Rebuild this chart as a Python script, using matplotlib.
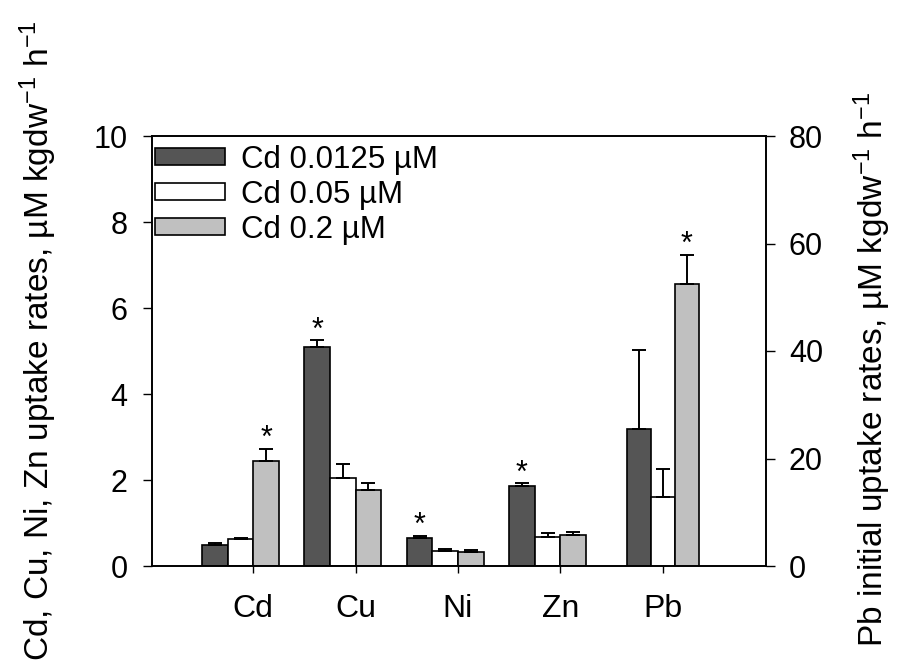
import matplotlib
matplotlib.use("Agg")
import matplotlib.pyplot as plt
import numpy as np
from matplotlib.patches import Patch

plt.rcParams['font.family'] = ['Liberation Sans', 'DejaVu Sans']
plt.rcParams['mathtext.default'] = 'regular'

categories = ['Cd', 'Cu', 'Ni', 'Zn', 'Pb']
series_names = ['Cd 0.0125 µM', 'Cd 0.05 µM', 'Cd 0.2 µM']
# left-axis metals (Cd, Cu, Ni, Zn)
low_vals = [0.50, 5.10, 0.66, 1.87]
low_err = [0.03, 0.15, 0.04, 0.05]
mid_vals = [0.63, 2.04, 0.35, 0.68]
mid_err = [0.03, 0.33, 0.05, 0.09]
high_vals = [2.44, 1.77, 0.33, 0.73]
high_err = [0.28, 0.17, 0.05, 0.05]
# right-axis metal (Pb)
pb_vals = [25.5, 12.9, 52.4]
pb_err = [14.6, 5.2, 5.4]
# significance markers: (category index, series index)
stars = [(0, 2), (1, 0), (2, 0), (3, 0), (4, 2)]

colors = ['#555555', '#ffffff', '#c0c0c0']

fig = plt.figure(figsize=(9.01, 6.71), dpi=100)
ax = fig.add_axes([152/901, 105/671, 614/901, 430/671])
ax2 = ax.twinx()

w = 0.25
offsets = [-1.5*w, -0.5*w, 0.5*w]
x = np.arange(4)
series = [(low_vals, low_err), (mid_vals, mid_err), (high_vals, high_err)]
tops_left = {}
for s, ((vals, errs), off) in enumerate(zip(series, offsets)):
    ax.bar(x + off, vals, width=w, color=colors[s], edgecolor='black', linewidth=1.2,
           yerr=[np.zeros(len(errs)), errs], capsize=5,
           error_kw=dict(elinewidth=1.4, capthick=1.4, ecolor='black'), zorder=2)
    for i in range(4):
        tops_left[(i, s)] = (x[i] + off, vals[i] + errs[i])

wp = 0.235
pb_off = [-wp, 0, wp]
for s in range(3):
    ax2.bar(4 + pb_off[s], pb_vals[s], width=wp, color=colors[s], edgecolor='black', linewidth=1.2,
            yerr=[[0], [pb_err[s]]], capsize=5,
            error_kw=dict(elinewidth=1.4, capthick=1.4, ecolor='black'), zorder=2)

for (i, s) in stars:
    if i < 4:
        xx, yy = tops_left[(i, s)]
        ax.text(xx, yy + 0.04, '*', ha='center', va='baseline', fontsize=22)
    else:
        ax2.text(4 + pb_off[s], (pb_vals[s] + pb_err[s]) + 0.5, '*', ha='center', va='baseline', fontsize=22)

ax.set_xlim(-0.99, 5.01)
ax.set_ylim(0, 10)
ax2.set_ylim(0, 80)
ax.set_xticks(range(5))
ax.set_xticklabels(categories)
ax.set_yticks([0, 2, 4, 6, 8, 10])
ax2.set_yticks([0, 20, 40, 60, 80])

for a in (ax, ax2):
    a.tick_params(axis='y', labelsize=22, length=6.5, width=1, direction='out', pad=11)
    for sp in a.spines.values():
        sp.set_linewidth(1.2)
ax.tick_params(axis='x', labelsize=23, length=5, width=1, direction='out', pad=15)
ax2.tick_params(axis='y', pad=10)

ax.set_ylabel(r'Cd, Cu, Ni, Zn uptake rates, µM kgdw$^{-1}$ h$^{-1}$', fontsize=24)
ax.yaxis.set_label_coords(-0.151, 0.523)
ax2.set_ylabel(r'Pb initial uptake rates, µM kgdw$^{-1}$ h$^{-1}$', fontsize=24, rotation=90)
ax2.yaxis.set_label_coords(1.14, 0.458)

handles = [Patch(facecolor=colors[s], edgecolor='black', linewidth=1.2) for s in range(3)]
ax.legend(handles, series_names, loc='upper left', frameon=False, fontsize=22.5,
          handlelength=2.24, handleheight=0.42, handletextpad=0.5, labelspacing=0.16,
          borderpad=0, borderaxespad=0, bbox_to_anchor=(0.005, 0.98))

fig.savefig('out.png', dpi=100)
